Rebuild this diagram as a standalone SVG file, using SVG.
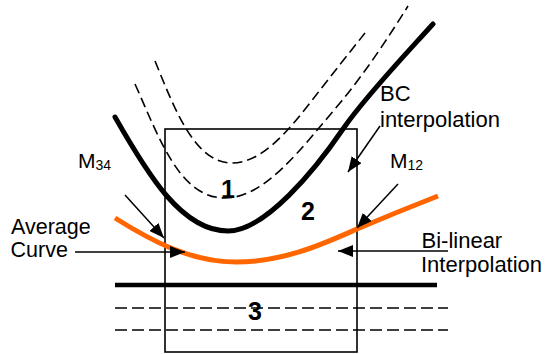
<svg xmlns="http://www.w3.org/2000/svg" width="546" height="354" viewBox="0 0 546 354">
<style>
.lbl{font-family:"Liberation Sans",Arial,sans-serif;font-size:22px;fill:#000}
.num{font-family:"Liberation Sans",Arial,sans-serif;font-size:25px;font-weight:bold;fill:#000;text-anchor:middle}
.thick{fill:none;stroke:#000;stroke-width:5;stroke-linecap:round}
.dash{fill:none;stroke:#000;stroke-width:1.6;stroke-dasharray:10,5}
.hdash{fill:none;stroke:#000;stroke-width:1.6;stroke-dasharray:12,5}
.arr{fill:none;stroke:#000;stroke-width:1.5;marker-end:url(#ah)}
</style>
<defs>
<marker id="ah" markerUnits="userSpaceOnUse" markerWidth="16" markerHeight="12" refX="15" refY="6" orient="auto">
<path d="M0,0 L15,6 L0,12 Z" fill="#000"/>
</marker>
</defs>
<rect width="546" height="354" fill="#fff"/>
<g id="cell">
<rect x="165" y="129" width="192" height="223" fill="none" stroke="#000" stroke-width="1.6"/>
</g>
<g id="curves">
<path id="dash-outer" class="dash" d="M155,61 C175,110 195,163 232,163 C260,163 285,135 310,103 C330,77 350,52 365,33"/>
<path id="dash-inner" class="dash" d="M135,84 C160,140 180,198 225,198 C265,198 300,150 340,103 C365,73 390,35 408,6"/>
<path id="bc-curve" class="thick" d="M115,117 C148,175 182,231 228,231 C265,231 315,170 343,129 C365,97 405,55 433,24"/>
<path id="avg-curve" fill="none" stroke="#FF6600" stroke-width="5" d="M115,218 C150,240 190,262 236,262 C285,262 325,243 357,229 C390,215 415,205 438,196"/>
<line id="bottom-thick" x1="115" y1="285" x2="437" y2="285" stroke="#000" stroke-width="4.5"/>
<line id="hdash1" class="hdash" x1="115" y1="308" x2="448" y2="308"/>
<line id="hdash2" class="hdash" x1="115" y1="330" x2="448" y2="330"/>
</g>
<g id="connectors">
<line class="arr" x1="125" y1="195" x2="164" y2="238"/>
<line class="arr" x1="75" y1="252" x2="185" y2="252"/>
<line class="arr" x1="380" y1="126" x2="348" y2="172"/>
<line class="arr" x1="398" y1="184" x2="357" y2="228"/>
<line class="arr" x1="448" y1="251" x2="338" y2="251"/>
</g>
<g id="region1"><text class="num" x="228" y="198">1</text></g>
<g id="region2"><text class="num" x="308" y="219.5">2</text></g>
<g id="region3"><text class="num" x="255" y="320">3</text></g>
<g id="label-bc"><text class="lbl" x="380" y="101">BC</text><text class="lbl" x="380" y="127">interpolation</text></g>
<g id="label-m34"><text class="lbl" x="78" y="168" style="font-size:21px">M<tspan style="font-size:14px" dy="2">34</tspan></text></g>
<g id="label-m12"><text class="lbl" x="390" y="168" style="font-size:21px">M<tspan style="font-size:14px" dy="2">12</tspan></text></g>
<g id="label-avg"><text class="lbl" x="11" y="234" style="font-size:21.5px">Average</text><text class="lbl" x="10.5" y="257" style="font-size:21.5px">Curve</text></g>
<g id="label-bilinear"><text class="lbl" x="421.5" y="247.5">Bi-linear</text><text class="lbl" x="421" y="271.5">Interpolation</text></g>
</svg>
